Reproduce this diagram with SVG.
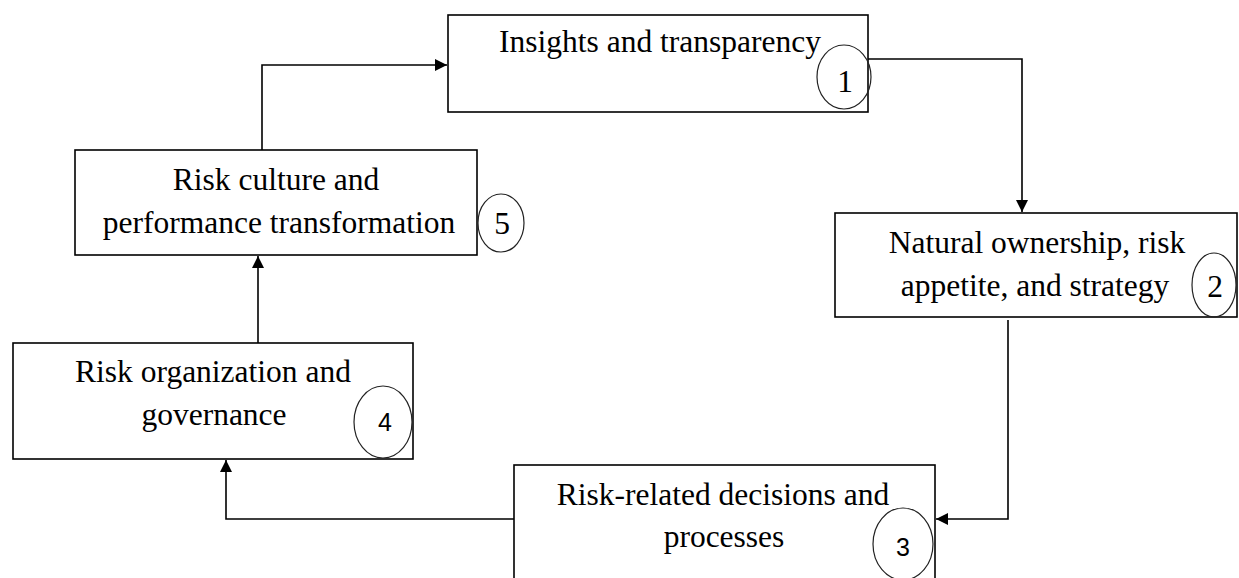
<svg xmlns="http://www.w3.org/2000/svg" width="1239" height="578" viewBox="0 0 1239 578">
<style>
.box{fill:#fff;stroke:#000;stroke-width:1.6}
.circ{fill:none;stroke:#222;stroke-width:1.2}
.t{font-family:"Liberation Serif",serif;font-size:31.5px;fill:#000;text-anchor:middle}
.ds{font-family:"Liberation Sans",sans-serif;font-size:25px;fill:#000;text-anchor:middle}
.con{fill:none;stroke:#000;stroke-width:1.6}
</style>
<defs>
<marker id="arr" viewBox="0 0 10 10" refX="10" refY="5" markerWidth="15" markerHeight="12" markerUnits="userSpaceOnUse" orient="auto">
<path d="M0,0 L10,5 L0,10 Z" fill="#000"/>
</marker>
</defs>
<rect width="1239" height="578" fill="#fff"/>
<g id="connectors">
<polyline class="con" points="262,150 262,65 447,65" marker-end="url(#arr)"/>
<polyline class="con" points="868,59 1022,59 1022,212" marker-end="url(#arr)"/>
<polyline class="con" points="1008,320 1008,519 936,519" marker-end="url(#arr)"/>
<polyline class="con" points="514,519 226,519 226,460" marker-end="url(#arr)"/>
<polyline class="con" points="258,343 258,256" marker-end="url(#arr)"/>
</g>
<g id="node1">
<rect class="box" x="448" y="15" width="420" height="97"/>
<text class="t" x="660" y="52">Insights and transparency</text>
<ellipse class="circ" cx="844" cy="77" rx="27" ry="32"/>
<text class="t" x="845" y="92">1</text>
</g>
<g id="node2">
<rect class="box" x="835" y="213" width="402" height="104"/>
<text class="t" x="1037" y="253">Natural ownership, risk</text>
<text class="t" x="1035" y="296">appetite, and strategy</text>
<ellipse class="circ" cx="1214" cy="285" rx="22" ry="32"/>
<text class="t" x="1215" y="297">2</text>
</g>
<g id="node3">
<rect class="box" x="514" y="465" width="421" height="130"/>
<text class="t" x="723" y="505">Risk-related decisions and</text>
<text class="t" x="724" y="547">processes</text>
<ellipse class="circ" cx="903" cy="544" rx="30" ry="36"/>
<text class="ds" x="903" y="556">3</text>
</g>
<g id="node4">
<rect class="box" x="13" y="343" width="400" height="116"/>
<text class="t" x="213" y="382">Risk organization and</text>
<text class="t" x="214" y="425">governance</text>
<ellipse class="circ" cx="383" cy="422" rx="29" ry="36"/>
<text class="ds" x="385" y="431">4</text>
</g>
<g id="node5">
<rect class="box" x="75" y="150" width="402" height="105"/>
<text class="t" x="276" y="190">Risk culture and</text>
<text class="t" x="279" y="233">performance transformation</text>
<ellipse class="circ" cx="501" cy="223" rx="23" ry="29"/>
<text class="t" x="502" y="234">5</text>
</g>
</svg>
